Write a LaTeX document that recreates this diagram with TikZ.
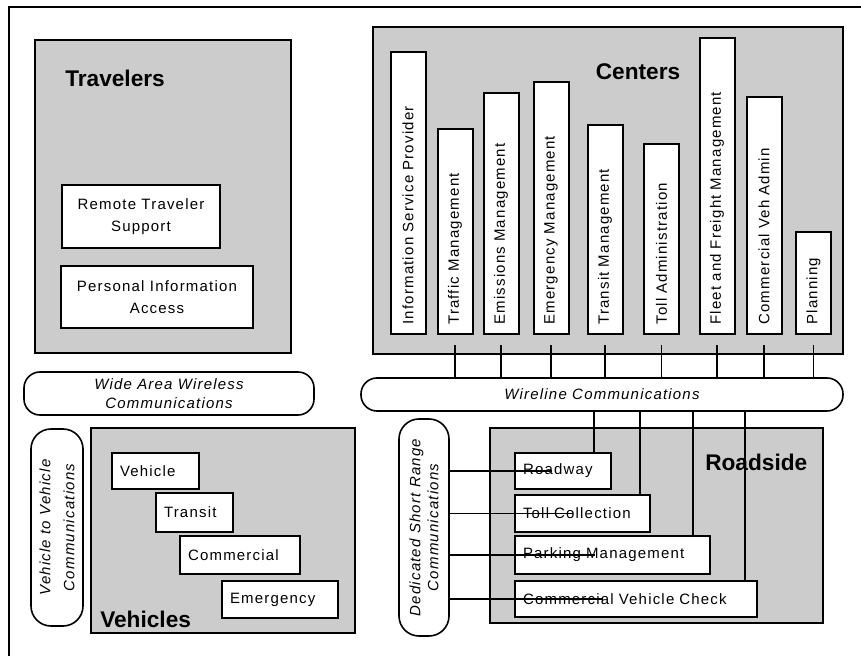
\documentclass[tikz,border=0pt]{standalone}
\usepackage{fontspec}
\setmainfont{Liberation Sans}[LetterSpace=8]
\newfontfamily\headfont{Liberation Sans}
\usepackage{tikz}
\definecolor{grpgray}{RGB}{204,204,204}

\begin{document}
\begin{tikzpicture}[x=0.75pt, y=-0.75pt, font=\fontsize{11.25}{17}\selectfont,
    grp/.style={draw, fill=grpgray, line width=1.5pt, anchor=north west, inner sep=0pt},
    box/.style={draw, fill=white, line width=1.5pt, anchor=north west},
    lbox/.style={box, align=left, inner xsep=6pt, text width=#1},
    bar/.style={draw, fill=white, line width=1.5pt, rotate=90, anchor=west,
        minimum height=26.25pt, align=left, inner xsep=7pt, text width=#1},
    pill/.style={draw, fill=white, line width=1.2pt, rounded corners=12pt, align=center,
        font=\fontsize{11.25}{14.25}\selectfont\itshape},
    head/.style={inner sep=0pt, font=\headfont\fontsize{17}{20}\selectfont\bfseries},
    link/.style={line width=1.1pt}]
    \useasboundingbox (0,0) rectangle (861,656);
    \clip (0,0) rectangle (861,656);
    % outer frame, cut off at the right and bottom
    \draw[line width=1.2pt] (9,7) rectangle (880,680);

    % Travelers
    \node[grp, minimum width=192pt, minimum height=234.75pt] (trav) at (34,39) {};
    \node[head, anchor=west] (travT) at (65,78) {Travelers};
    \node[box, minimum width=118.5pt, minimum height=47.25pt, align=center] (rts) at (61,184) {Remote Traveler\\Support};
    \node[box, minimum width=144pt, minimum height=46.5pt, align=center] (pia) at (60,265) {Personal Information\\Access};

    % Centers
    \node[grp, minimum width=352.5pt, minimum height=245.25pt] (cen) at (372,26) {};
    \node[head] (cenT) at (638,72) {Centers};
    \node[bar=197.5pt] (isp) at (408,335) {Information Service Provider};
    \node[bar=139.75pt] (tm) at (455,335) {Traffic Management};
    \node[bar=166.75pt] (emi) at (501,335) {Emissions Management};
    \node[bar=175pt] (emg) at (551,335) {Emergency Management};
    \node[bar=142.75pt] (trm) at (605,335) {Transit Management};
    \node[bar=128.5pt] (tad) at (661.5,335) {Toll Administration};
    \node[bar=208pt] (ffm) at (717,335) {Fleet and Freight Management};
    \node[bar=163.75pt] (cva) at (764,335) {Commercial Veh Admin};
    \node[bar=62.5pt] (pln) at (813.5,335) {Planning};

    % communication media
    \node[pill, minimum width=217.5pt, minimum height=32.25pt] (waw) at (169,393.5) {Wide Area Wireless\\Communications};
    \node[pill, minimum width=361.5pt, minimum height=24.75pt] (wl) at (602,394.5) {Wireline Communications};
    \node[pill, rotate=90, rounded corners=15pt, minimum width=147.75pt, minimum height=39pt,
        font=\fontsize{11.25}{18}\selectfont\itshape] (v2v) at (57,527.5) {Vehicle to Vehicle\\Communications};
    \node[pill, rotate=90, rounded corners=15pt, minimum width=162.75pt, minimum height=37.5pt,
        font=\fontsize{11.25}{13.5}\selectfont\itshape] (dsrc) at (424,527.5) {Dedicated Short Range\\Communications};

    % Vehicles
    \node[grp, minimum width=198pt, minimum height=153.75pt] (veh) at (90,427) {};
    \node[head, anchor=west] (vehT) at (100,619) {Vehicles};
    \node[lbox=53.25pt, minimum height=27pt] (vv) at (111,452) {Vehicle};
    \node[lbox=45.75pt, minimum height=29.25pt] (vt) at (155,492) {Transit};
    \node[lbox=78pt, minimum height=28.5pt] (vc) at (179,535) {Commercial};
    \node[lbox=75pt, minimum height=27.75pt] (ve) at (221,580) {Emergency};

    % Roadside
    \node[grp, minimum width=249.75pt, minimum height=146.25pt] (rs) at (489,427) {};
    \node[head, anchor=west] (rsT) at (705,462) {Roadside};
    \node[lbox=60pt, minimum height=27pt] (rw) at (514,452) {Roadway};
    \node[lbox=89.25pt, minimum height=27.75pt] (tc) at (514,494) {Toll Collection};
    \node[lbox=134.25pt, minimum height=28.5pt] (pm) at (514,535) {Parking Management};
    \node[lbox=169.5pt, minimum height=27pt] (cvc) at (514,580) {Commercial Vehicle Check};

    % centers to wireline
    \foreach \nm in {tm,emi,emg,trm,tad,ffm,cva,pln}
        \draw[link] (\nm |- 0,345) -- (\nm |- wl.north);

    % wireline to roadside
    \coordinate (t1) at ([xshift=-13.5pt]rw.north east);
    \coordinate (t2) at ([xshift=-8.25pt]tc.north east);
    \coordinate (t3) at ([xshift=-13.5pt]pm.north east);
    \coordinate (t4) at ([xshift=-9.75pt]cvc.north east);
    \foreach \nm in {t1,t2,t3,t4}
        \draw[link] (\nm |- wl.south) -- (\nm);

    % short range links
    \coordinate (e1) at ([xshift=28.5pt]rw.west);
    \coordinate (e2) at ([xshift=44.25pt]tc.west);
    \coordinate (e3) at ([xshift=60.75pt]pm.west);
    \coordinate (e4) at ([xshift=66.75pt]cvc.west);
    \foreach \nm in {e1,e2,e3,e4}
        \draw[link] (dsrc.south |- \nm) -- (\nm);
\end{tikzpicture}
\end{document}
